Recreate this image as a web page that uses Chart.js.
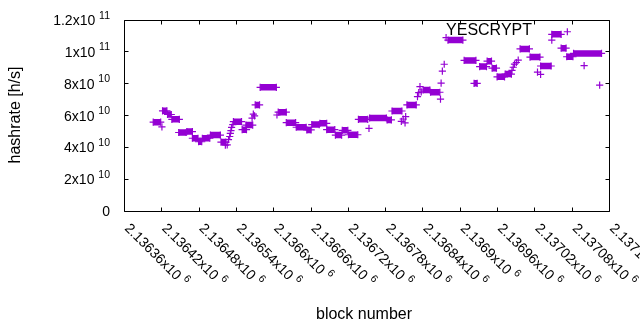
<!DOCTYPE html>
<html><head><meta charset="utf-8">
<script src="https://cdn.jsdelivr.net/npm/chart.js@4/dist/chart.umd.min.js"></script>
<style>html,body{margin:0;padding:0;background:#fff}#c{display:block}</style>
</head><body>
<canvas id="c" width="640" height="330"></canvas>
<script>
// Runs of consecutive blocks sharing one hashrate (first block, last block, rate in 1e10 h/s)
const runFirst = [2136407,2136421,2136422,2136430,2136437,2136448,2136461,2136470,2136480,2136486,2136499,2136516,2136523,2136526,2136528,2136530,2136531,2136532,2136533,2136535,2136536,2136550,2136556,2136566,2136568,2136570,2136571,2136579,2136606,2136608,2136621,2136637,2136654,2136662,2136675,2136686,2136700,2136711,2136721,2136737,2136754,2136755,2136783,2136791,2136806,2136809,2136812,2136813,2136815,2136832,2136834,2136836,2136838,2136841,2136853,2136869,2136870,2136872,2136875,2136878,2136881,2136907,2136923,2136932,2136944,2136952,2136960,2136973,2136984,2136986,2136988,2136991,2136994,2136997,2137013,2137025,2137030,2137030,2137048,2137048,2137063,2137073,2137072,2137083,2137100,2137125];
const runLast  = [2136419,2136421,2136429,2136436,2136449,2136460,2136470,2136479,2136485,2136498,2136515,2136524,2136523,2136526,2136528,2136530,2136531,2136532,2136533,2136535,2136549,2136557,2136567,2136566,2136568,2136570,2136578,2136605,2136606,2136621,2136636,2136653,2136661,2136674,2136686,2136699,2136710,2136720,2136736,2136752,2136754,2136782,2136790,2136807,2136806,2136809,2136812,2136813,2136830,2136832,2136834,2136836,2136838,2136852,2136868,2136869,2136870,2136872,2136875,2136878,2136905,2136926,2136928,2136943,2136951,2136959,2136972,2136983,2136984,2136986,2136988,2136991,2136994,2137012,2137029,2137025,2137030,2137047,2137063,2137048,2137071,2137073,2137082,2137128,2137100,2137125];
const runRate  = [5.55,5.26,6.26,6.03,5.73,4.90,4.96,4.54,4.32,4.54,4.74,4.30,4.10,4.12,4.45,4.65,4.85,5.02,5.22,5.40,5.58,5.08,5.37,5.80,6.05,5.95,6.63,7.74,6.00,6.18,5.52,5.23,5.06,5.40,5.48,5.08,4.74,5.04,4.76,5.73,5.16,5.81,5.69,6.25,5.60,5.75,5.50,5.90,6.63,7.15,7.40,7.78,7.45,7.57,7.43,7.00,8.00,8.76,9.19,10.86,10.71,9.43,7.99,9.04,9.38,8.94,8.40,8.57,8.80,9.00,9.20,9.30,9.45,10.15,9.64,8.70,8.55,9.08,11.07,10.71,10.20,11.23,9.66,9.87,9.10,7.88];

const seriesName = 'YESCRYPT';
const xTickValues = [2136360,2136420,2136480,2136540,2136600,2136660,2136720,2136780,2136840,2136900,2136960,2137020,2137080,2137140];
const xTickBase = ['2.13636x10','2.13642x10','2.13648x10','2.13654x10','2.1366x10','2.13666x10','2.13672x10','2.13678x10','2.13684x10','2.1369x10','2.13696x10','2.13702x10','2.13708x10','2.13714x10'];
const xTickExp = '6';
const yTickValues = [0,2e10,4e10,6e10,8e10,1e11,1.2e11];
const yTickBase = ['0','2x10','4x10','6x10','8x10','1x10','1.2x10'];
const yTickExp = ['','10','10','10','10','11','11'];
const xTitle = 'block number';
const yTitle = 'hashrate [h/s]';

// build the point table: each run gives its endpoints, runs separated by a gap
const points = [];
for (let i = 0; i < runFirst.length; i++) {
  const y = runRate[i] * 1e10;
  points.push({x: runFirst[i], y: y});
  if (runLast[i] !== runFirst[i]) points.push({x: runLast[i], y: y});
  points.push({x: runLast[i], y: null});
}

const FONT = '"Liberation Sans", Arial, sans-serif';
const purple = '#9400d3';

const deco = {
  id: 'deco',
  afterDraw(chart) {
    const ctx = chart.ctx, a = chart.chartArea;
    const xs = chart.scales.x, ys = chart.scales.y;
    ctx.save();
    ctx.strokeStyle = '#000'; ctx.lineWidth = 1;
    const L = Math.round(a.left) + 0.5, R = Math.round(a.right) + 0.5;
    const T = Math.round(a.top) + 0.5, B = Math.round(a.bottom) + 0.5;
    ctx.beginPath();
    ctx.rect(L, T, R - L, B - T);
    const tl = 4;
    xTickValues.forEach(v => {
      const px = Math.round(xs.getPixelForValue(v)) + 0.5;
      ctx.moveTo(px, B); ctx.lineTo(px, B - tl);
      ctx.moveTo(px, T); ctx.lineTo(px, T + tl);
    });
    yTickValues.forEach(v => {
      const py = Math.round(ys.getPixelForValue(v)) + 0.5;
      ctx.moveTo(L, py); ctx.lineTo(L + tl, py);
      ctx.moveTo(R, py); ctx.lineTo(R - tl, py);
    });
    ctx.stroke();

    ctx.fillStyle = '#000';
    // y tick labels
    const mainF = '14px ' + FONT, supF = '10.5px ' + FONT;
    yTickValues.forEach((v, i) => {
      const py = ys.getPixelForValue(v);
      const rightEdge = 110;
      ctx.textBaseline = 'alphabetic';
      ctx.textAlign = 'right';
      if (yTickExp[i]) {
        ctx.font = supF;
        const sw = ctx.measureText(yTickExp[i]).width;
        ctx.fillText(yTickExp[i], rightEdge, py - 1);
        ctx.font = mainF;
        const sp = ctx.measureText(' ').width;
        ctx.fillText(yTickBase[i], rightEdge - sw - sp, py + 5.5);
      } else {
        ctx.font = mainF;
        ctx.fillText(yTickBase[i], rightEdge, py + 5.5);
      }
    });
    // x tick labels, rotated
    xTickValues.forEach((v, i) => {
      const px = xs.getPixelForValue(v);
      ctx.save();
      ctx.translate(px, 229);
      ctx.rotate(Math.PI / 4);
      ctx.textAlign = 'left'; ctx.textBaseline = 'alphabetic';
      ctx.font = mainF;
      ctx.fillText(xTickBase[i], 0, 0);
      const w = ctx.measureText(xTickBase[i] + ' ').width;
      ctx.font = supF;
      ctx.fillText(xTickExp, w, -6.5);
      ctx.restore();
    });
    // axis titles
    ctx.font = '16px ' + FONT;
    ctx.textAlign = 'center'; ctx.textBaseline = 'middle';
    ctx.fillText(xTitle, 364, 315);
    ctx.save();
    ctx.translate(16, (a.top + a.bottom) / 2);
    ctx.rotate(-Math.PI / 2);
    ctx.fillText(yTitle, 0, 0);
    ctx.restore();
    // key
    ctx.font = '16px ' + FONT;
    ctx.textAlign = 'right'; ctx.textBaseline = 'middle';
    ctx.fillText(seriesName, 532, 31);
    ctx.restore();
  }
};

new Chart(document.getElementById('c'), {
  type: 'line',
  data: { datasets: [{
    label: seriesName,
    data: points,
    borderColor: purple,
    backgroundColor: purple,
    borderWidth: 6.5,
    borderCapStyle: 'butt',
    spanGaps: false,
    tension: 0,
    pointStyle: 'cross',
    pointRadius: 3.6,
    pointBorderWidth: 1.2,
    pointBorderColor: purple,
    pointHoverRadius: 3.6
  }]},
  options: {
    responsive: false,
    animation: false,
    devicePixelRatio: 1,
    layout: { padding: { left: 124, top: 19.5, right: 31, bottom: 119.5 } },
    scales: {
      x: { type: 'linear', display: false, min: 2136360, max: 2137140 },
      y: { type: 'linear', display: false, min: 0, max: 1.2e11 }
    },
    plugins: { legend: { display: false }, tooltip: { enabled: false } }
  },
  plugins: [deco]
});
</script>
</body></html>
